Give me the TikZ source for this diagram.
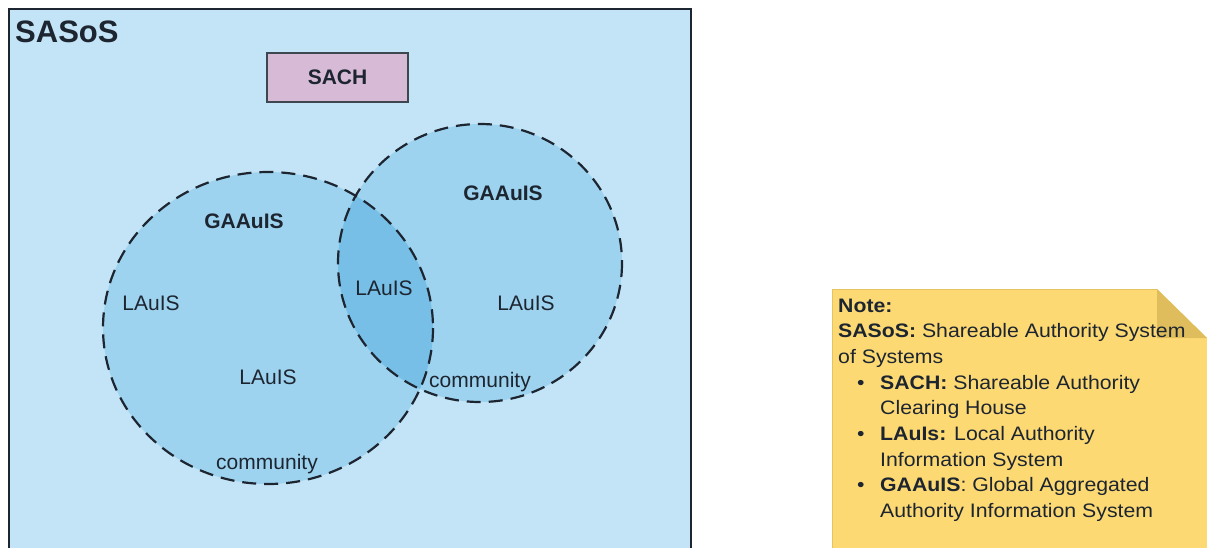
\documentclass[tikz,border=0pt]{standalone}
\usepackage{fontspec}
\setmainfont{Liberation Sans}
\newfontfamily\notefont[FakeStretch=1.09]{Liberation Sans}
\definecolor{boxblue}{HTML}{C3E4F6}
\definecolor{circblue}{HTML}{9ED3F0}
\definecolor{lensblue}{HTML}{77BFE7}
\definecolor{sachpink}{HTML}{D6BAD6}
\definecolor{noteyellow}{HTML}{FDD973}
\definecolor{foldyellow}{HTML}{DFBD5C}
\definecolor{ink}{HTML}{1C2530}
\begin{document}
\begin{tikzpicture}[x=1pt,y=-1pt,
  frame/.style={draw=ink, line width=2pt, fill=boxblue},
  ring/.style={draw=ink, line width=2.2pt, dash pattern=on 14pt off 8pt},
  label/.style={anchor=base, text=ink, inner sep=0pt, font=\fontsize{21}{25}\selectfont},
  boldlabel/.style={label, font=\fontsize{21}{25}\selectfont\bfseries},
  sachbox/.style={draw=ink!85, line width=1.5pt, fill=sachpink, minimum width=141pt,
    minimum height=49pt, inner sep=0pt, text=ink, font=\fontsize{21}{25}\selectfont\bfseries},
  noteline/.style={anchor=base west, text=ink, inner sep=0pt, font=\notefont\fontsize{19.5}{24}\selectfont}]
  \useasboundingbox (0,0) rectangle (1207,547);
  \clip (0,0) rectangle (1207,547);
  \fill[white] (0,0) rectangle (1207,547);

  % outer system box
  \draw[frame] (9,9) rectangle (691,570);
  \node[anchor=base west, inner sep=0pt, text=ink, font=\fontsize{31}{36}\selectfont\bfseries] (sasos) at (15,42) {SASoS};

  % clearing house
  \node[sachbox] (sach) at (337.5,77.5) {SACH};

  % the two communities
  \fill[circblue] (268,328) ellipse [x radius=165, y radius=156];
  \fill[circblue] (480,263) ellipse [x radius=142, y radius=139];
  \begin{scope}
    \clip (268,328) ellipse [x radius=165, y radius=156];
    \fill[lensblue] (480,263) ellipse [x radius=142, y radius=139];
  \end{scope}
  \draw[ring] (268,328) ellipse [x radius=165, y radius=156];
  \draw[ring] (480,263) ellipse [x radius=142, y radius=139];

  \node[boldlabel] (gaaisL) at (244,228) {GAAuIS};
  \node[boldlabel] (gaaisR) at (503,200) {GAAuIS};
  \node[label] (lauisA) at (151,310) {LAuIS};
  \node[label] (lauisB) at (268,384) {LAuIS};
  \node[label] (lauisC) at (384,295) {LAuIS};
  \node[label] (lauisD) at (526,310) {LAuIS};
  \node[label] (commL) at (267,469) {community};
  \node[label] (commR) at (480,387) {community};

  % note with folded corner
  \fill[noteyellow] (832,289) -- (1157,289) -- (1207,338) -- (1207,570) -- (832,570) -- cycle;
  \draw[foldyellow!80!noteyellow, line width=1pt] (832,570) -- (832,289) -- (1157,289);
  \fill[foldyellow] (1157,289) -- (1157,338) -- (1207,338) -- cycle;

  \node[noteline] (n1) at (838,312) {\textbf{Note:}};
  \node[noteline] (n2) at (838,337.5) {\textbf{SASoS:} Shareable Authority System};
  \node[noteline] (n3) at (838,363) {of Systems};
  \node[noteline] (b1) at (857,389) {\textbullet};
  \node[noteline] (n4) at (880,389) {\textbf{SACH:} Shareable Authority};
  \node[noteline] (n5) at (880,414.5) {Clearing House};
  \node[noteline] (b2) at (857,440) {\textbullet};
  \node[noteline] (n6) at (880,440) {\textbf{LAuIs:} Local Authority};
  \node[noteline] (n7) at (880,466) {Information System};
  \node[noteline] (b3) at (857,491.5) {\textbullet};
  \node[noteline] (n8) at (880,491.5) {\textbf{GAAuIS}: Global Aggregated};
  \node[noteline] (n9) at (880,517) {Authority Information System};
\end{tikzpicture}
\end{document}
